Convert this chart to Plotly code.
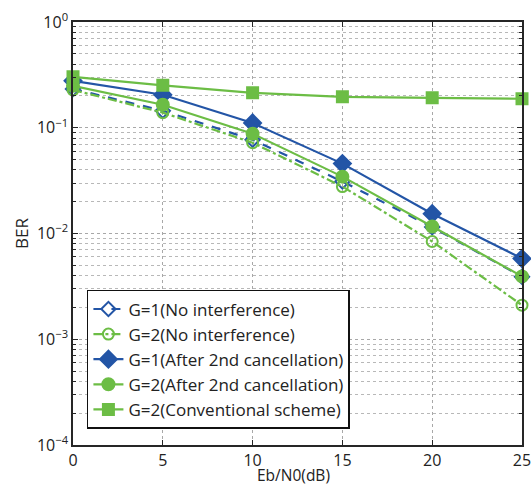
import plotly.graph_objects as go

ebn0 = [0, 5, 10, 15, 20, 25]
g1_noint = [0.233, 0.145, 0.077, 0.031, 0.0115, 0.0039]
g2_noint = [0.228, 0.139, 0.0722, 0.0278, 0.0084, 0.0021]
g1_after = [0.278, 0.205, 0.111, 0.0458, 0.0154, 0.0058]
g2_after = [0.249, 0.165, 0.0878, 0.0345, 0.01164, 0.00393]
g2_conv = [0.303, 0.252, 0.214, 0.196, 0.192, 0.188]

names = ["G=1(No interference)", "G=2(No interference)",
         "G=1(After 2nd cancellation)", "G=2(After 2nd cancellation)",
         "G=2(Conventional scheme)"]
x_ticks = [0, 5, 10, 15, 20, 25]
y_ticks = [1e-4, 1e-3, 1e-2, 1e-1, 1]
y_ticktext = ["10<sup>\u22124</sup>", "10<sup>\u22123</sup>", "10<sup>\u22122</sup>",
              "10<sup>\u22121</sup>", "10<sup>0</sup>"]
x_title = "Eb/N0(dB)"
y_title = "BER"

BLUE = "#2355a6"
GREEN = "#6cbd45"
FONT = "Open Sans"

fig = go.Figure()
series = [
    (g1_noint, names[0], BLUE, "dash", "diamond-open", 11),
    (g2_noint, names[1], GREEN, "dashdot", "circle-open", 11),
    (g1_after, names[2], BLUE, "solid", "diamond", 13),
    (g2_after, names[3], GREEN, "solid", "circle", 12),
    (g2_conv, names[4], GREEN, "solid", "square", 11),
]
for y, n, c, d, sym, sz in series:
    fig.add_trace(go.Scatter(
        x=ebn0, y=y, name=n, mode="lines+markers", cliponaxis=False,
        line=dict(color=c, width=2.2, dash=d),
        marker=dict(symbol=sym, size=sz, color=c, line=dict(color=c, width=2)),
    ))

axis_common = dict(
    showline=True, linecolor="#262626", linewidth=1.5, mirror="ticks",
    ticks="inside", ticklen=5, tickcolor="#262626",
    showgrid=True, gridcolor="#a8a8a8", griddash="dot", gridwidth=1,
    zeroline=False, automargin=False, ticklabeloverflow="allow",
    tickfont=dict(family=FONT, size=16, color="#222"),
)

fig.update_xaxes(
    range=[0, 25], tickmode="array", tickvals=x_ticks, ticklabelstandoff=0,
    minor=dict(showgrid=False, ticks=""),
    **axis_common,
)
fig.update_yaxes(
    type="log", range=[-4, 0], tickmode="array", tickvals=y_ticks, ticktext=y_ticktext,
    title=dict(text=y_title, font=dict(family=FONT, size=17, color="#222"), standoff=4),
    minor=dict(dtick="D1", showgrid=True, gridcolor="#b8b8b8", griddash="dot",
               ticks="inside", ticklen=3, tickcolor="#262626"),
    **axis_common,
)

fig.add_annotation(
    text=x_title, xref="paper", yref="paper", x=0.49, y=-0.0993,
    xanchor="center", yanchor="bottom", showarrow=False, borderpad=0,
    font=dict(family=FONT, size=15.5, color="#222"),
)

fig.update_layout(
    width=531, height=487,
    margin=dict(l=73, r=9, t=22, b=42),
    plot_bgcolor="white", paper_bgcolor="white",
    legend=dict(x=0.031, y=0.038, xanchor="left", yanchor="bottom",
                bordercolor="#111", borderwidth=1.5, bgcolor="white",
                font=dict(family=FONT, size=17, color="#222"),
                tracegroupgap=0, itemwidth=30),
    showlegend=True,
)

fig.write_html("out.html")
